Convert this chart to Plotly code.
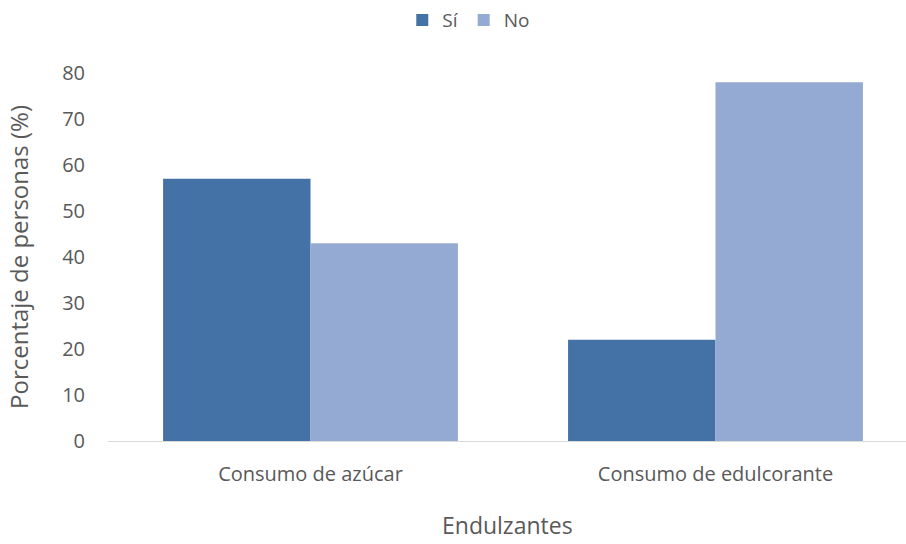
import plotly.graph_objects as go

categorias = ["Consumo de azúcar", "Consumo de edulcorante"]
si_valores = [57, 22]
no_valores = [43, 78]
y_ticks = [0, 10, 20, 30, 40, 50, 60, 70, 80]
titulo_x = "Endulzantes"
titulo_y = "Porcentaje de personas (%)"

FONT = "Open Sans"
GRIS = "#595959"

fig = go.Figure()
fig.add_trace(go.Bar(name="Sí", x=categorias, y=si_valores, marker=dict(color="#4472A6", line=dict(width=0))))
fig.add_trace(go.Bar(name="No", x=categorias, y=no_valores, marker=dict(color="#95AAD2", line=dict(width=0))))

fig.update_layout(
    width=906, height=544,
    paper_bgcolor="white", plot_bgcolor="white",
    barmode="group", bargap=0.272, bargroupgap=0,
    margin=dict(l=108, r=0, t=73, b=103),
    font=dict(family=FONT, size=20, color=GRIS),
    legend=dict(orientation="h", x=0.444, xref="container", xanchor="left",
                y=0.998, yref="container", yanchor="top",
                font=dict(size=19, color=GRIS), itemwidth=30, traceorder="normal"),
    xaxis=dict(range=[-0.5, 1.4704], showgrid=False, showline=True, linecolor="#D9D9D9",
               linewidth=1, ticks="", ticklabelstandoff=15, tickfont=dict(size=20, color=GRIS),
               automargin=False),
    yaxis=dict(range=[0, 80], tickvals=y_ticks, showgrid=False, zeroline=False, showline=False,
               ticks="", ticklabelstandoff=22, tickfont=dict(size=20, color=GRIS),
               automargin=False,
               title=dict(text=titulo_y, font=dict(size=24, color=GRIS), standoff=26)),
)

# Axis title for the categories, kept inside the bottom edge of the page
fig.add_annotation(text=titulo_x, xref="paper", yref="paper", x=0.5, y=-0.274,
                   xanchor="center", yanchor="bottom", showarrow=False, borderpad=0,
                   font=dict(size=23, color=GRIS))

fig.write_html("out.html")
